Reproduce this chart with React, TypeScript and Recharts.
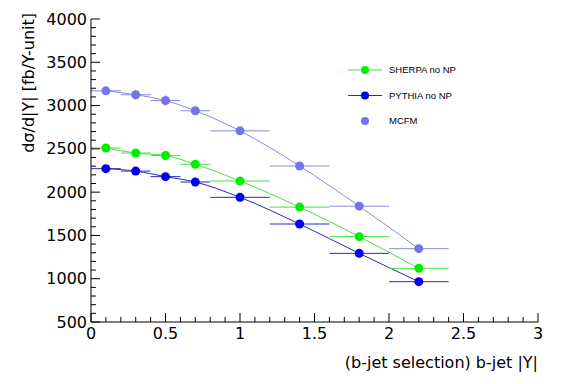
import {
  ComposedChart,
  ErrorBar,
  Legend,
  Line,
  Scatter,
  XAxis,
  YAxis,
} from "recharts"

// bin centres and half widths of |Y| bins
const binCenters = [0.1, 0.3, 0.5, 0.7, 1.0, 1.4, 1.8, 2.2]
const binHalfWidths = [0.1, 0.1, 0.1, 0.1, 0.2, 0.2, 0.2, 0.2]

const sherpaNoNP = [2510, 2452, 2423, 2322, 2129, 1827, 1486, 1120]
const pythiaNoNP = [2271, 2243, 2179, 2117, 1940, 1632, 1293, 966]
const mcfm = [3170, 3125, 3058, 2940, 2708, 2302, 1838, 1347]
const mcfmErr = [15, 55, 60, 20, 25, 15, 15, 15]

const xTicks = [
  0, 0.1, 0.2, 0.3, 0.4, 0.5, 0.6, 0.7, 0.8, 0.9, 1, 1.1, 1.2, 1.3, 1.4, 1.5,
  1.6, 1.7, 1.8, 1.9, 2, 2.1, 2.2, 2.3, 2.4, 2.5, 2.6, 2.7, 2.8, 2.9, 3,
]
const yTicks = [
  500, 600, 700, 800, 900, 1000, 1100, 1200, 1300, 1400, 1500, 1600, 1700,
  1800, 1900, 2000, 2100, 2200, 2300, 2400, 2500, 2600, 2700, 2800, 2900, 3000,
  3100, 3200, 3300, 3400, 3500, 3600, 3700, 3800, 3900, 4000,
]

const data = binCenters.map((x, i) => ({
  x,
  xErr: binHalfWidths[i],
  sherpa: sherpaNoNP[i],
  pythia: pythiaNoNP[i],
  mcfm: mcfm[i],
  mcfmErr: mcfmErr[i],
}))

const FONT = "'DejaVu Sans', Arial, sans-serif"
const LEG_FONT = "'Liberation Sans', Arial, Helvetica, sans-serif"
const GAP = 4

const SHERPA_C = "#00ee00"
const SHERPA_L = "#44e044"
const PYTHIA_C = "#0000ee"
const PYTHIA_L = "#2a2ab8"
const MCFM_C = "#7474ee"
const MCFM_L = "#8a8ae0"

const isMajor = (v: number, step: number) =>
  Math.abs(v / step - Math.round(v / step)) < 1e-6

function BottomTick({ x, y, payload }: any) {
  const major = isMajor(payload.value, 0.5)
  const base = y - GAP
  return (
    <g>
      <line x1={x} x2={x} y1={base} y2={base - (major ? 9 : 5)} stroke="#000" />
      {major && (
        <text x={x} y={base + 16.5} textAnchor="middle" fontSize={16} fontFamily={FONT} fill="#000">
          {String(payload.value)}
        </text>
      )}
    </g>
  )
}

function TopTick({ x, y, payload }: any) {
  const major = isMajor(payload.value, 0.5)
  return <line x1={x} x2={x} y1={y} y2={y + (major ? 9 : 5)} stroke="#000" />
}

function LeftTick({ x, y, payload }: any) {
  const major = isMajor(payload.value, 500)
  const base = x + GAP
  return (
    <g>
      <line x1={base} x2={base + (major ? 9 : 5)} y1={y} y2={y} stroke="#000" />
      {major && (
        <text x={base - 4} y={y} dy="0.35em" textAnchor="end" fontSize={16} fontFamily={FONT} fill="#000">
          {payload.value}
        </text>
      )}
    </g>
  )
}

function RightTick({ x, y, payload }: any) {
  const major = isMajor(payload.value, 500)
  return <line x1={x} x2={x - (major ? 9 : 5)} y1={y} y2={y} stroke="#000" />
}

const dot = (color: string) => (p: any) => (
  <circle cx={p.cx} cy={p.cy} r={4.5} fill={color} />
)

function LegendBox() {
  const rows = [
    { name: "SHERPA no NP", c: SHERPA_C, l: SHERPA_L, line: true },
    { name: "PYTHIA no NP", c: PYTHIA_C, l: PYTHIA_L, line: true },
    { name: "MCFM", c: MCFM_C, l: MCFM_L, line: false },
  ]
  return (
    <svg width={160} height={80}>
      {rows.map((r, i) => {
        const y = 12 + i * 25.5
        return (
          <g key={r.name}>
            {r.line && <line x1={10} x2={44} y1={y} y2={y} stroke={r.l} />}
            <circle cx={27} cy={y} r={4} fill={r.c} />
            <text x={51} y={y} dy="0.36em" fontSize={9.5} fontFamily={LEG_FONT} fill="#000">
              {r.name}
            </text>
          </g>
        )
      })}
    </svg>
  )
}

export default function App() {
  return (
    <ComposedChart
      width={551}
      height={368}
      data={data}
      margin={{ top: 11, right: 21, bottom: 0, left: 0 }}
      style={{ fontFamily: FONT }}
    >
      <XAxis
        dataKey="x"
        type="number"
        domain={[0, 3]}
        ticks={xTicks}
        interval={0}
        height={54}
        tickSize={0}
        tickMargin={GAP}
        tickLine={false}
        axisLine={{ stroke: "#000" }}
        tick={<BottomTick />}
        label={(props: any) => {
          const vb = props.viewBox
          return (
            <text
              x={vb.x + vb.width}
              y={vb.y + 46}
              textAnchor="end"
              fontSize={16}
              fontFamily={FONT}
              fill="#000"
            >
              (b-jet selection) b-jet |Y|
            </text>
          )
        }}
      />
      <XAxis
        xAxisId="top"
        orientation="top"
        dataKey="x"
        type="number"
        domain={[0, 3]}
        ticks={xTicks}
        interval={0}
        height={0}
        tickSize={0}
        tickMargin={0}
        tickLine={false}
        axisLine={{ stroke: "#000" }}
        tick={<TopTick />}
      />
      <YAxis
        type="number"
        domain={[500, 4000]}
        ticks={yTicks}
        interval={0}
        width={83}
        tickSize={0}
        tickMargin={GAP}
        tickLine={false}
        axisLine={{ stroke: "#000" }}
        tick={<LeftTick />}
        label={(props: any) => {
          const vb = props.viewBox
          const cx = 20
          const cy = vb.y - 6
          return (
            <text
              x={cx}
              y={cy}
              dy="0.36em"
              textAnchor="end"
              transform={`rotate(-90, ${cx}, ${cy})`}
              fontSize={16}
              fontFamily={FONT}
              fill="#000"
            >
              dσ/d|Y| [fb/Y-unit]
            </text>
          )
        }}
      />
      <YAxis
        yAxisId="right"
        orientation="right"
        type="number"
        domain={[500, 4000]}
        ticks={yTicks}
        interval={0}
        width={0}
        tickSize={0}
        tickMargin={0}
        tickLine={false}
        axisLine={{ stroke: "#000" }}
        tick={<RightTick />}
      />

      <Line type="monotone" dataKey="mcfm" stroke={MCFM_L} strokeWidth={1} dot={false} isAnimationActive={false} legendType="none" />
      <Line type="monotone" dataKey="sherpa" stroke={SHERPA_L} strokeWidth={1} dot={false} isAnimationActive={false} legendType="none" />
      <Line type="monotone" dataKey="pythia" stroke={PYTHIA_L} strokeWidth={1} dot={false} isAnimationActive={false} legendType="none" />

      <Scatter dataKey="mcfm" shape={dot(MCFM_C)} isAnimationActive={false}>
        <ErrorBar dataKey="xErr" direction="x" width={0} stroke={MCFM_L} strokeWidth={1} isAnimationActive={false} />
        <ErrorBar dataKey="mcfmErr" direction="y" width={0} stroke={MCFM_L} strokeWidth={1} isAnimationActive={false} />
      </Scatter>
      <Scatter dataKey="sherpa" shape={dot(SHERPA_C)} isAnimationActive={false}>
        <ErrorBar dataKey="xErr" direction="x" width={0} stroke={SHERPA_L} strokeWidth={1} isAnimationActive={false} />
      </Scatter>
      <Scatter dataKey="pythia" shape={dot(PYTHIA_C)} isAnimationActive={false}>
        <ErrorBar dataKey="xErr" direction="x" width={0} stroke={PYTHIA_L} strokeWidth={1} isAnimationActive={false} />
      </Scatter>

      <Legend
        layout="vertical"
        align="center"
        verticalAlign="middle"
        wrapperStyle={{ position: "absolute", left: 330, top: 50, width: 160 }}
        content={() => <LegendBox />}
      />
    </ComposedChart>
  )
}
